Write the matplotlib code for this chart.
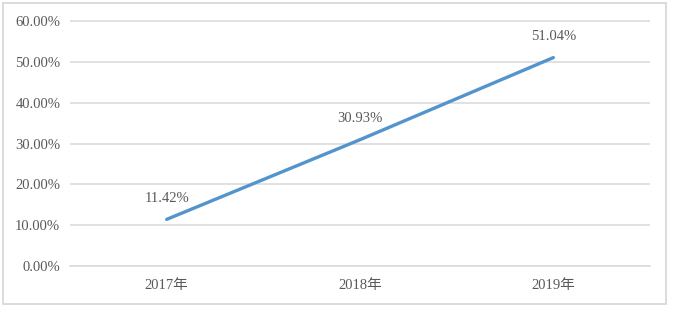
import matplotlib.pyplot as plt
from matplotlib.patches import Rectangle
from matplotlib.ticker import FuncFormatter

years = ['2017年', '2018年', '2019年']
rates = [11.42, 30.93, 51.04]
yticks = [0, 10, 20, 30, 40, 50, 60]

plt.rcParams['font.family'] = ['Liberation Serif', 'Noto Sans CJK SC']
txt = '#595959'
grid = '#d9d9d9'

fig = plt.figure(figsize=(6.78, 3.12), dpi=100)
ax = fig.add_axes([70/678, 1 - 266/312, 580/678, 246/312])

x = range(len(years))
ax.plot(x, rates, color='#5394cd', lw=2.4, solid_capstyle='round')
for xi, v in zip(x, rates):
    ax.annotate(f'{v:.2f}%', (xi, v), xytext=(0, 15), textcoords='offset points',
                ha='center', va='center', fontsize=10.5, color=txt)

ax.set_xlim(-0.5, len(years) - 0.5)
ax.set_ylim(0, 60.25)
ax.set_yticks(yticks)
ax.yaxis.set_major_formatter(FuncFormatter(lambda v, p: f'{v:.2f}%'))
ax.set_xticks(list(x))
ax.set_xticklabels(years)
ax.grid(axis='y', color=grid, lw=1.1)
ax.set_axisbelow(True)
ax.tick_params(length=0, labelsize=10.5, labelcolor=txt)
ax.tick_params(axis='y', pad=7)
ax.tick_params(axis='x', pad=9)
for s in ['top', 'left', 'right']:
    ax.spines[s].set_visible(False)
ax.spines['bottom'].set_color(grid)
ax.spines['bottom'].set_linewidth(1.1)

fig.patches.append(Rectangle((3/678, 1 - 304/312), 663/678, 301/312,
                             transform=fig.transFigure, fill=False,
                             edgecolor=grid, lw=1.3))

fig.savefig('out.png', dpi=100)
